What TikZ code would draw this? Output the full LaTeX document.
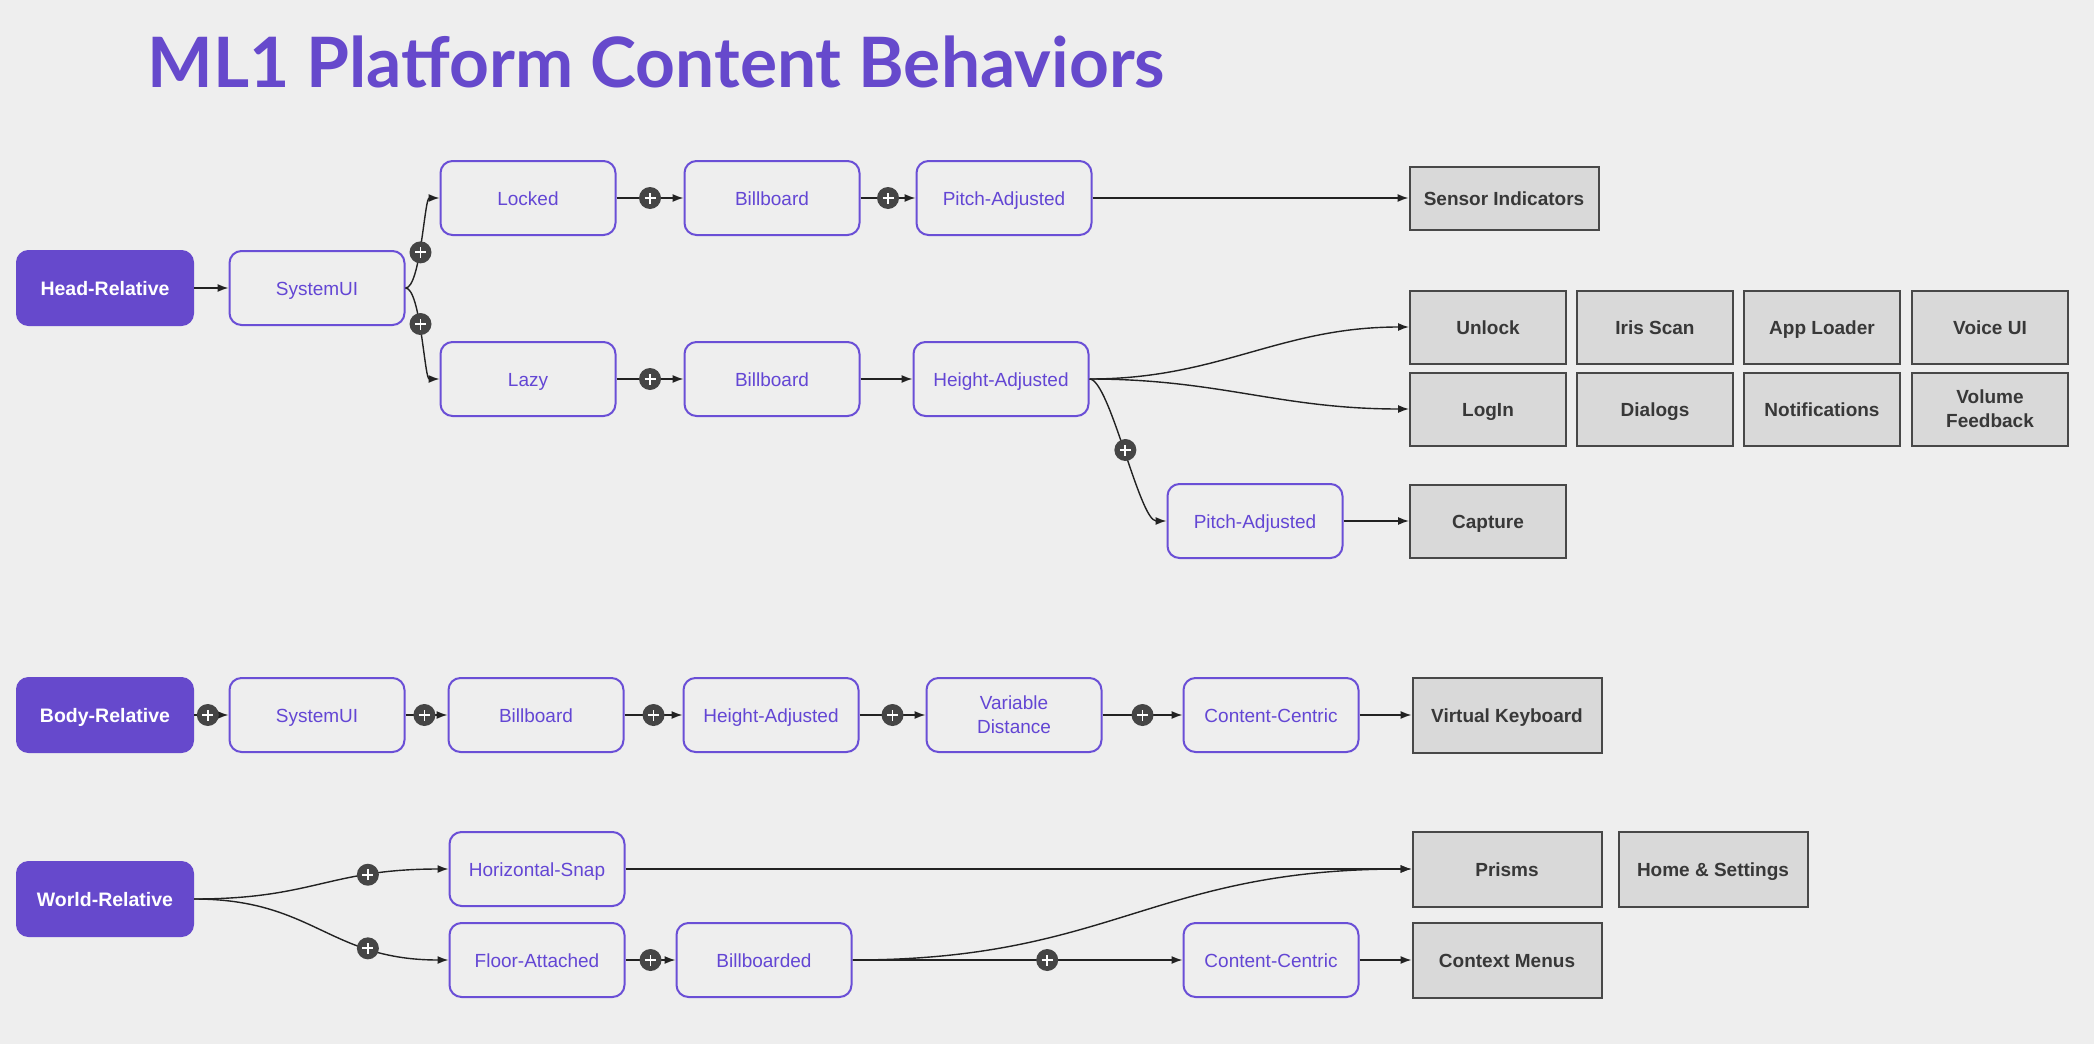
\documentclass[tikz,border=0pt]{standalone}
\usepackage{fontspec}
\setmainfont{Liberation Sans}
\newfontfamily\titlefont{Lato}
\usetikzlibrary{arrows.meta}
\definecolor{bg}{HTML}{EEEEEE}
\definecolor{purp}{HTML}{6649CC}
\definecolor{purpline}{HTML}{6A4FD6}
\definecolor{purptext}{HTML}{6346D4}
\definecolor{grayfill}{HTML}{D9D9D9}
\definecolor{grayline}{HTML}{484848}
\definecolor{graytext}{HTML}{383838}
\definecolor{plusfill}{HTML}{454545}
\definecolor{linecol}{HTML}{222222}
\tikzset{
 rootbox/.style={draw=purp, fill=purp, rounded corners=12pt, minimum width=177pt, minimum height=75pt, text=white, font=\fontsize{19.5}{23}\selectfont\bfseries, line width=1pt, text height=17pt, text depth=3pt},
 stepbox/.style={draw=purpline, fill=bg, rounded corners=12pt, line width=2pt, minimum width=175pt, minimum height=74pt, text=purptext, font=\fontsize{19}{24}\selectfont, align=center},
 oneline/.style={text height=17pt, text depth=3pt},
 leafbox/.style={draw=grayline, fill=grayfill, line width=2pt, minimum width=156pt, minimum height=73pt, text=graytext, font=\fontsize{19}{24}\selectfont\bfseries, align=center},
 wideleaf/.style={leafbox, minimum width=189pt, minimum height=75pt},
 conn/.style={draw=linecol, line width=1.4pt, -{Latex[length=11pt,width=8pt]}},
 plusmark/.style={circle, fill=plusfill, minimum size=22pt, inner sep=0pt,
   path picture={\draw[-, white, line width=1.8pt]
     ([xshift=-5.5pt]path picture bounding box.center) -- ([xshift=5.5pt]path picture bounding box.center)
     ([yshift=-5.5pt]path picture bounding box.center) -- ([yshift=5.5pt]path picture bounding box.center);}},
}
\begin{document}
\begin{tikzpicture}[x=1pt,y=-1pt]
\fill[bg] (0,0) rectangle (2094,1044);
\useasboundingbox (0,0) rectangle (2094,1044);

\node[anchor=base west, text=purp, font=\titlefont\fontsize{69.5}{74}\selectfont\bfseries] (title) at (144,87) {ML1 Platform Content Behaviors};

% Head-relative group
\node[rootbox] (head) at (105,288) {Head-Relative};
\node[stepbox, oneline] (hsys) at (317,288) {SystemUI};
\node[stepbox, oneline] (locked) at (528,198) {Locked};
\node[stepbox, oneline] (hbb1) at (772,198) {Billboard};
\node[stepbox, oneline] (hpitch1) at (1004,198) {Pitch-Adjusted};
\node[wideleaf, oneline, minimum height=63pt] (sensor) at (1504,198) {Sensor Indicators};
\node[stepbox, oneline] (lazy) at (528,379) {Lazy};
\node[stepbox, oneline] (hbb2) at (772,379) {Billboard};
\node[stepbox, oneline] (hheight) at (1001,379) {Height-Adjusted};
\node[stepbox, oneline] (hpitch2) at (1255,521) {Pitch-Adjusted};

\node[leafbox, oneline] (unlock) at (1488,327) {Unlock};
\node[leafbox, oneline] (iris) at (1655,327) {Iris Scan};
\node[leafbox, oneline] (apploader) at (1822,327) {App Loader};
\node[leafbox, oneline] (voice) at (1990,327) {Voice UI};
\node[leafbox, oneline] (login) at (1488,409) {LogIn};
\node[leafbox, oneline] (dialogs) at (1655,409) {Dialogs};
\node[leafbox, oneline] (notif) at (1822,409) {Notifications};
\node[leafbox] (volume) at (1990,409) {Volume\\Feedback};
\node[leafbox, oneline] (capture) at (1488,521) {Capture};

\draw[conn] (head) -- (hsys);
\draw[conn] (hsys.east) .. controls +(15,0) and +(-15,0) .. node[plusmark, pos=0.43] (p1) {} (locked.west);
\draw[conn] (hsys.east) .. controls +(15,0) and +(-15,0) .. node[plusmark, pos=0.43] (p2) {} (lazy.west);
\draw[conn] (locked) -- node[plusmark] (p3) {} (hbb1);
\draw[conn] (hbb1) -- node[plusmark] (p4) {} (hpitch1);
\draw[conn] (hpitch1) -- (sensor);
\draw[conn] (lazy) -- node[plusmark] (p5) {} (hbb2);
\draw[conn] (hbb2) -- (hheight);
\draw[conn] (hheight.east) .. controls +(130,0) and +(-130,0) .. (unlock.west);
\draw[conn] (hheight.east) .. controls +(130,0) and +(-130,0) .. (login.west);
\draw[conn] (hheight.east) .. controls +(20,0) and +(-27,0) .. node[plusmark, pos=0.5] (p6) {} (hpitch2.west);
\draw[conn] (hpitch2) -- (capture);

% Body-relative group
\node[rootbox] (body) at (105,715) {Body-Relative};
\node[stepbox, oneline] (bsys) at (317,715) {SystemUI};
\node[stepbox, oneline] (bbb) at (536,715) {Billboard};
\node[stepbox, oneline] (bheight) at (771,715) {Height-Adjusted};
\node[stepbox] (bvar) at (1014,715) {Variable\\Distance};
\node[stepbox, oneline] (bcontent) at (1271,715) {Content-Centric};
\node[wideleaf, oneline] (vkey) at (1507,715) {Virtual Keyboard};

\draw[conn] (body) -- node[plusmark, pos=0.4] (p7) {} (bsys);
\draw[conn] (bsys) -- node[plusmark, pos=0.45] (p8) {} (bbb);
\draw[conn] (bbb) -- node[plusmark] (p9) {} (bheight);
\draw[conn] (bheight) -- node[plusmark] (p10) {} (bvar);
\draw[conn] (bvar) -- node[plusmark] (p11) {} (bcontent);
\draw[conn] (bcontent) -- (vkey);

% World-relative group
\node[rootbox] (world) at (105,899) {World-Relative};
\node[stepbox, oneline] (hsnap) at (537,869) {Horizontal-Snap};
\node[stepbox, oneline] (floor) at (537,960) {Floor-Attached};
\node[stepbox, oneline] (wbb) at (764,960) {Billboarded};
\node[stepbox, oneline] (wcontent) at (1271,960) {Content-Centric};
\node[wideleaf, oneline] (prisms) at (1507,869) {Prisms};
\node[wideleaf, oneline] (home) at (1713,869) {Home \& Settings};
\node[wideleaf, oneline] (context) at (1507,960) {Context Menus};

\draw[conn] (world.east) .. controls +(120,0) and +(-120,0) .. node[plusmark, pos=0.72] (p12) {} (hsnap.west);
\draw[conn] (world.east) .. controls +(120,0) and +(-120,0) .. node[plusmark, pos=0.72] (p13) {} (floor.west);
\draw[conn] (floor) -- node[plusmark] (p14) {} (wbb);
\draw[conn] (hsnap) -- (prisms);
\draw[conn] (wbb.east) .. controls +(260,0) and +(-260,0) .. (prisms.west);
\draw[conn] (wbb) -- node[plusmark, pos=0.59] (p15) {} (wcontent);
\draw[conn] (wcontent) -- (context);
\end{tikzpicture}
\end{document}
